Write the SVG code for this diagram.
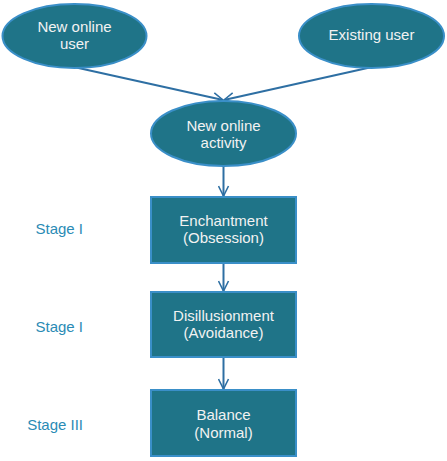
<svg xmlns="http://www.w3.org/2000/svg" width="447" height="461" viewBox="0 0 447 461">
<defs>
<style>
.node{fill:#1F7488;stroke:#3A8FC8;stroke-width:2}
.nt{font-family:"Liberation Sans",Arial,sans-serif;font-size:15px;fill:#F2F2F2;text-anchor:middle}
.st{font-family:"Liberation Sans",Arial,sans-serif;font-size:15px;fill:#2A8BB5;text-anchor:end}
.conn{stroke:#2E6FA3;stroke-width:2;fill:none}
</style>
<marker id="arr" viewBox="0 0 12 12" refX="11" refY="6" markerWidth="12" markerHeight="12" markerUnits="userSpaceOnUse" orient="auto">
<path d="M1,1 L11,6 L1,11" fill="none" stroke="#2E6FA3" stroke-width="1.6"/>
</marker>
</defs>
<rect width="447" height="461" fill="#FFFFFF"/>
<g id="connectors">
<line class="conn" x1="74" y1="67" x2="223" y2="100" marker-end="url(#arr)"/>
<line class="conn" x1="372" y1="67" x2="224" y2="100" marker-end="url(#arr)"/>
<line class="conn" x1="223.5" y1="166" x2="223.5" y2="196" marker-end="url(#arr)"/>
<line class="conn" x1="223.5" y1="263" x2="223.5" y2="291" marker-end="url(#arr)"/>
<line class="conn" x1="223.5" y1="357" x2="223.5" y2="389" marker-end="url(#arr)"/>
</g>
<g id="new-online-user">
<ellipse class="node" cx="74.5" cy="36" rx="72" ry="32"/>
<text class="nt" x="74.5" y="32">New online</text>
<text class="nt" x="74.5" y="49">user</text>
</g>
<g id="existing-user">
<ellipse class="node" cx="371.5" cy="36" rx="72.5" ry="32"/>
<text class="nt" x="371.5" y="40">Existing user</text>
</g>
<g id="new-online-activity">
<ellipse class="node" cx="223.5" cy="133.5" rx="72.5" ry="32.5"/>
<text class="nt" x="223.5" y="131">New online</text>
<text class="nt" x="223.5" y="148">activity</text>
</g>
<g id="enchantment">
<rect class="node" x="151" y="197" width="145" height="66"/>
<text class="nt" x="223.5" y="226">Enchantment</text>
<text class="nt" x="223.5" y="243">(Obsession)</text>
</g>
<g id="disillusionment">
<rect class="node" x="151" y="292" width="145" height="65"/>
<text class="nt" x="223.5" y="321">Disillusionment</text>
<text class="nt" x="223.5" y="338">(Avoidance)</text>
</g>
<g id="balance">
<rect class="node" x="151" y="390" width="145" height="66"/>
<text class="nt" x="223.5" y="420">Balance</text>
<text class="nt" x="223.5" y="438">(Normal)</text>
</g>
<g id="stage-labels">
<text class="st" x="83" y="234">Stage I</text>
<text class="st" x="83" y="332">Stage I</text>
<text class="st" x="83" y="430">Stage III</text>
</g>
</svg>
